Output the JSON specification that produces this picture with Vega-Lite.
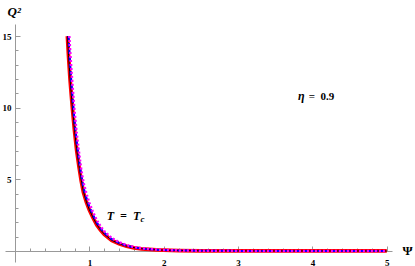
{
  "$schema": "https://vega.github.io/schema/vega-lite/v6.json",
  "width": 387,
  "height": 238,
  "autosize": {"type": "none"},
  "padding": {"left": 5, "top": 24, "right": 23, "bottom": 4},
  "background": "white",
  "config": {"view": {"stroke": null}, "font": "Liberation Serif"},
  "datasets": {
    "red": [
      {"psi": 0.705, "q2": 15.0}, {"psi": 0.72, "q2": 13.6}, {"psi": 0.74, "q2": 12.0}, {"psi": 0.76, "q2": 10.7},
      {"psi": 0.78, "q2": 9.5}, {"psi": 0.80, "q2": 8.4}, {"psi": 0.83, "q2": 7.0}, {"psi": 0.86, "q2": 5.9},
      {"psi": 0.89, "q2": 4.9}, {"psi": 0.92, "q2": 4.1}, {"psi": 0.96, "q2": 3.4}, {"psi": 1.0, "q2": 2.86},
      {"psi": 1.05, "q2": 2.3}, {"psi": 1.1, "q2": 1.82}, {"psi": 1.15, "q2": 1.45}, {"psi": 1.2, "q2": 1.16},
      {"psi": 1.3, "q2": 0.74}, {"psi": 1.4, "q2": 0.5}, {"psi": 1.5, "q2": 0.33}, {"psi": 1.6, "q2": 0.22},
      {"psi": 1.7, "q2": 0.15}, {"psi": 1.8, "q2": 0.11}, {"psi": 1.9, "q2": 0.075}, {"psi": 2.0, "q2": 0.055},
      {"psi": 2.2, "q2": 0.03}, {"psi": 2.5, "q2": 0.013}, {"psi": 3.0, "q2": 0.004}, {"psi": 3.5, "q2": 0.0015},
      {"psi": 4.0, "q2": 0.0006}, {"psi": 5.0, "q2": 0.0001}
    ],
    "black": [
      {"psi": 0.706, "q2": 15.0}, {"psi": 0.72, "q2": 13.65}, {"psi": 0.74, "q2": 12.05}, {"psi": 0.76, "q2": 10.75},
      {"psi": 0.78, "q2": 9.55}, {"psi": 0.80, "q2": 8.45}, {"psi": 0.83, "q2": 7.05}, {"psi": 0.86, "q2": 5.95},
      {"psi": 0.89, "q2": 4.95}, {"psi": 0.92, "q2": 4.15}, {"psi": 0.96, "q2": 3.43}, {"psi": 1.0, "q2": 2.88},
      {"psi": 1.05, "q2": 2.32}, {"psi": 1.1, "q2": 1.84}, {"psi": 1.15, "q2": 1.47}, {"psi": 1.2, "q2": 1.18},
      {"psi": 1.3, "q2": 0.75}, {"psi": 1.4, "q2": 0.51}, {"psi": 1.5, "q2": 0.34}, {"psi": 1.6, "q2": 0.23},
      {"psi": 1.7, "q2": 0.16}, {"psi": 1.8, "q2": 0.115}, {"psi": 1.9, "q2": 0.08}, {"psi": 2.0, "q2": 0.058},
      {"psi": 2.2, "q2": 0.032}, {"psi": 2.5, "q2": 0.014}, {"psi": 3.0, "q2": 0.0045}, {"psi": 3.5, "q2": 0.0017},
      {"psi": 4.0, "q2": 0.0007}, {"psi": 5.0, "q2": 0.0001}
    ],
    "blue": [
      {"psi": 0.72, "q2": 15.0}, {"psi": 0.74, "q2": 13.1}, {"psi": 0.76, "q2": 11.6}, {"psi": 0.78, "q2": 10.3},
      {"psi": 0.80, "q2": 9.1}, {"psi": 0.83, "q2": 7.6}, {"psi": 0.86, "q2": 6.4}, {"psi": 0.89, "q2": 5.3},
      {"psi": 0.92, "q2": 4.45}, {"psi": 0.96, "q2": 3.7}, {"psi": 1.0, "q2": 3.1}, {"psi": 1.05, "q2": 2.5},
      {"psi": 1.1, "q2": 1.98}, {"psi": 1.15, "q2": 1.58}, {"psi": 1.2, "q2": 1.27}, {"psi": 1.3, "q2": 0.82},
      {"psi": 1.4, "q2": 0.56}, {"psi": 1.5, "q2": 0.37}, {"psi": 1.6, "q2": 0.25}, {"psi": 1.7, "q2": 0.17},
      {"psi": 1.8, "q2": 0.125}, {"psi": 1.9, "q2": 0.085}, {"psi": 2.0, "q2": 0.063}, {"psi": 2.2, "q2": 0.035},
      {"psi": 2.5, "q2": 0.016}, {"psi": 3.0, "q2": 0.005}, {"psi": 3.5, "q2": 0.002}, {"psi": 4.0, "q2": 0.0008},
      {"psi": 5.0, "q2": 0.0001}
    ],
    "magenta": [
      {"psi": 0.73, "q2": 15.0}, {"psi": 0.74, "q2": 14.1}, {"psi": 0.76, "q2": 12.5}, {"psi": 0.78, "q2": 11.1},
      {"psi": 0.80, "q2": 9.8}, {"psi": 0.83, "q2": 8.2}, {"psi": 0.86, "q2": 6.9}, {"psi": 0.89, "q2": 5.7},
      {"psi": 0.92, "q2": 4.8}, {"psi": 0.96, "q2": 4.0}, {"psi": 1.0, "q2": 3.35}, {"psi": 1.05, "q2": 2.7},
      {"psi": 1.1, "q2": 2.15}, {"psi": 1.15, "q2": 1.72}, {"psi": 1.2, "q2": 1.38}, {"psi": 1.3, "q2": 0.9},
      {"psi": 1.4, "q2": 0.61}, {"psi": 1.5, "q2": 0.41}, {"psi": 1.6, "q2": 0.28}, {"psi": 1.7, "q2": 0.19},
      {"psi": 1.8, "q2": 0.14}, {"psi": 1.9, "q2": 0.1}, {"psi": 2.0, "q2": 0.072}, {"psi": 2.2, "q2": 0.04},
      {"psi": 2.5, "q2": 0.019}, {"psi": 3.0, "q2": 0.006}, {"psi": 3.5, "q2": 0.0025}, {"psi": 4.0, "q2": 0.001},
      {"psi": 5.0, "q2": 0.0002}
    ],
    "labels": [
      {"psi": 3.805, "q2": 10.54, "label": "η", "kind": "eta"},
      {"psi": 3.95, "q2": 10.54, "label": "=\u20020.9", "kind": "eqval"},
      {"psi": 1.233, "q2": 2.16, "label": "T\u2002=\u2002T", "kind": "tt"},
      {"psi": 1.688, "q2": 2.05, "label": "c", "kind": "sub"}
    ]
  },
  "layer": [
    {
      "data": {"name": "red"},
      "mark": {"type": "line", "color": "#ff0000", "strokeWidth": 3.8, "clip": true},
      "encoding": {
        "x": {"field": "psi", "type": "quantitative",
          "scale": {"domain": [-0.135, 5.07], "nice": false, "zero": false},
          "axis": {"values": [1, 2, 3, 4, 5], "orient": "bottom", "offset": -11, "grid": false,
            "title": "Ψ", "titleX": 402, "titleY": -1, "titleAlign": "center", "titleBaseline": "middle",
            "titleFont": "Liberation Serif", "titleFontSize": 13, "titleFontWeight": "bold", "titleColor": "#000000",
            "domainColor": "#999999", "tickColor": "#999999", "tickSize": -5,
            "labelFont": "Liberation Serif", "labelFontSize": 9, "labelFontWeight": "bold", "labelColor": "#000000",
            "labelPadding": 12, "labelFlush": false, "labelOverlap": false}},
        "y": {"field": "q2", "type": "quantitative",
          "scale": {"domain": [-0.77, 15.84], "nice": false, "zero": false},
          "axis": {"values": [5, 10, 15], "orient": "left", "offset": -10, "grid": false,
            "title": "Q²", "titleAngle": 0, "titleX": -8, "titleY": -9, "titleAlign": "left", "titleBaseline": "alphabetic",
            "titleFont": "Liberation Serif", "titleFontSize": 13, "titleFontWeight": "bold", "titleFontStyle": "italic", "titleColor": "#000000",
            "domainColor": "#999999", "tickColor": "#999999", "tickSize": -5,
            "labelFont": "Liberation Serif", "labelFontSize": 9, "labelFontWeight": "bold", "labelColor": "#000000",
            "labelPadding": 9, "labelFlush": false, "labelOverlap": false}}
      }
    },
    {
      "data": {"name": "black"},
      "mark": {"type": "line", "color": "#000000", "strokeWidth": 1, "clip": true},
      "encoding": {
        "x": {"field": "psi", "type": "quantitative",
          "axis": {"values": [0.2, 0.4, 0.6, 0.8, 1.2, 1.4, 1.6, 1.8, 2.2, 2.4, 2.6, 2.8, 3.2, 3.4, 3.6, 3.8, 4.2, 4.4, 4.6, 4.8],
            "orient": "bottom", "offset": -11, "grid": false, "title": null, "labels": false, "domain": false,
            "tickColor": "#999999", "tickSize": -3}},
        "y": {"field": "q2", "type": "quantitative",
          "axis": {"values": [1, 2, 3, 4, 6, 7, 8, 9, 11, 12, 13, 14],
            "orient": "left", "offset": -10, "grid": false, "title": null, "labels": false, "domain": false,
            "tickColor": "#999999", "tickSize": -3}}
      }
    },
    {
      "data": {"name": "blue"},
      "mark": {"type": "line", "color": "#0000ff", "strokeWidth": 2, "strokeDash": [4, 3], "clip": true},
      "encoding": {
        "x": {"field": "psi", "type": "quantitative", "axis": null},
        "y": {"field": "q2", "type": "quantitative", "axis": null}
      }
    },
    {
      "data": {"name": "magenta"},
      "mark": {"type": "line", "color": "#ff00ff", "strokeWidth": 2.5, "strokeDash": [2, 2], "clip": true},
      "encoding": {
        "x": {"field": "psi", "type": "quantitative", "axis": null},
        "y": {"field": "q2", "type": "quantitative", "axis": null}
      }
    },
    {
      "data": {"name": "labels"},
      "transform": [{"filter": "datum.kind == 'eta'"}],
      "mark": {"type": "text", "align": "left", "baseline": "alphabetic", "font": "Liberation Serif", "fontSize": 12, "fontWeight": "bold", "fontStyle": "italic", "color": "#000000"},
      "encoding": {
        "x": {"field": "psi", "type": "quantitative", "axis": null},
        "y": {"field": "q2", "type": "quantitative", "axis": null},
        "text": {"field": "label"}
      }
    },
    {
      "data": {"name": "labels"},
      "transform": [{"filter": "datum.kind == 'eqval'"}],
      "mark": {"type": "text", "align": "left", "baseline": "alphabetic", "font": "Liberation Serif", "fontSize": 11, "fontWeight": "bold", "color": "#000000"},
      "encoding": {
        "x": {"field": "psi", "type": "quantitative", "axis": null},
        "y": {"field": "q2", "type": "quantitative", "axis": null},
        "text": {"field": "label"}
      }
    },
    {
      "data": {"name": "labels"},
      "transform": [{"filter": "datum.kind == 'tt'"}],
      "mark": {"type": "text", "align": "left", "baseline": "alphabetic", "font": "Liberation Serif", "fontSize": 12, "fontWeight": "bold", "fontStyle": "italic", "color": "#000000"},
      "encoding": {
        "x": {"field": "psi", "type": "quantitative", "axis": null},
        "y": {"field": "q2", "type": "quantitative", "axis": null},
        "text": {"field": "label"}
      }
    },
    {
      "data": {"name": "labels"},
      "transform": [{"filter": "datum.kind == 'sub'"}],
      "mark": {"type": "text", "align": "left", "baseline": "alphabetic", "font": "Liberation Serif", "fontSize": 9, "fontWeight": "bold", "fontStyle": "italic", "color": "#000000"},
      "encoding": {
        "x": {"field": "psi", "type": "quantitative", "axis": null},
        "y": {"field": "q2", "type": "quantitative", "axis": null},
        "text": {"field": "label"}
      }
    }
  ],
  "resolve": {"axis": {"x": "independent", "y": "independent"}}
}
